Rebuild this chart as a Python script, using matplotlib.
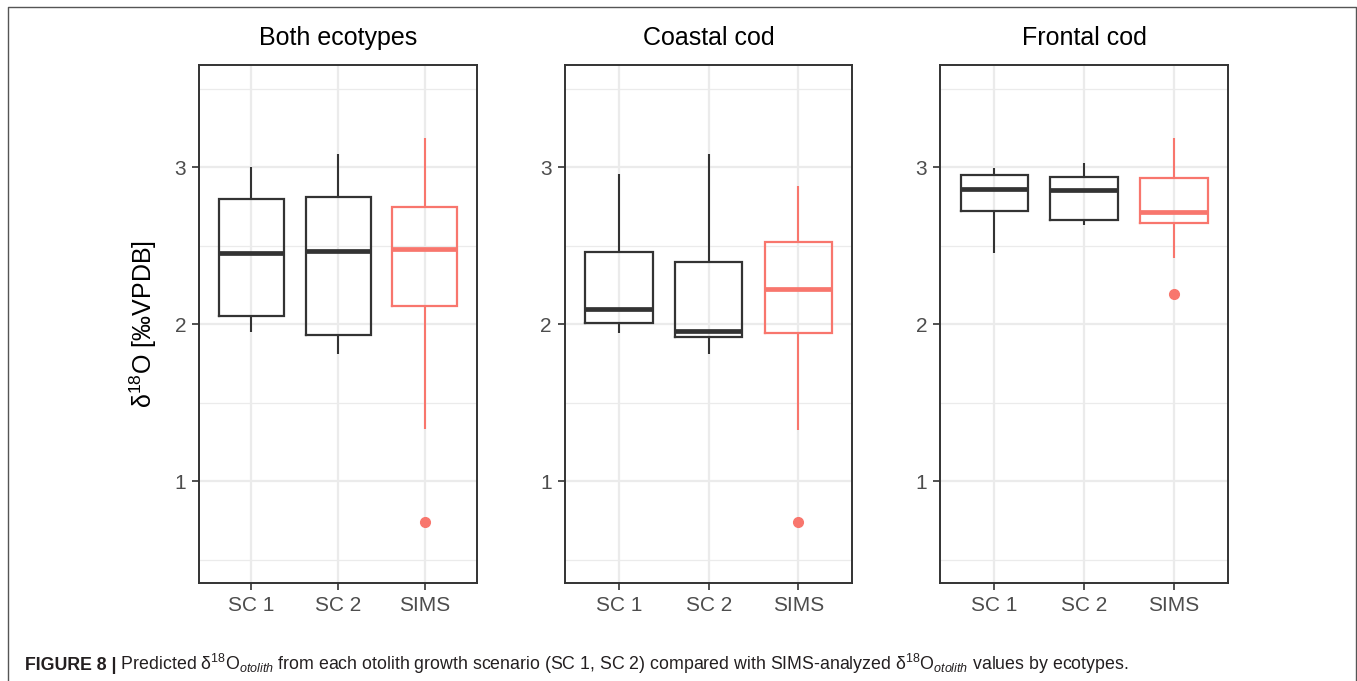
import matplotlib
matplotlib.use('Agg')
import matplotlib.pyplot as plt
from matplotlib.lines import Line2D
from matplotlib import font_manager

plt.rcParams['font.family'] = ['Liberation Sans', 'DejaVu Sans']
plt.rcParams['mathtext.fontset'] = 'custom'
plt.rcParams['mathtext.rm'] = 'Liberation Sans'
plt.rcParams['mathtext.it'] = 'Liberation Sans:italic'
plt.rcParams['mathtext.bf'] = 'Liberation Sans:bold'

# ---------------- data ----------------
panels = ['Both ecotypes', 'Coastal cod', 'Frontal cod']
categories = ['SC 1', 'SC 2', 'SIMS']
yticks = [1, 2, 3]

both_low = [1.95, 1.81, 1.33]
both_q1 = [2.055, 1.93, 2.114]
both_med = [2.451, 2.468, 2.479]
both_q3 = [2.797, 2.81, 2.746]
both_high = [3.00, 3.085, 3.187]
both_out = [[], [], [0.74]]

coastal_low = [1.945, 1.808, 1.326]
coastal_q1 = [2.007, 1.916, 1.943]
coastal_med = [2.095, 1.955, 2.225]
coastal_q3 = [2.462, 2.396, 2.526]
coastal_high = [2.953, 3.086, 2.881]
coastal_out = [[], [], [0.741]]

frontal_low = [2.451, 2.633, 2.423]
frontal_q1 = [2.719, 2.66, 2.647]
frontal_med = [2.862, 2.854, 2.713]
frontal_q3 = [2.95, 2.937, 2.931]
frontal_high = [2.994, 3.028, 3.185]
frontal_out = [[], [], [2.189]]

panel_data = [
    (both_low, both_q1, both_med, both_q3, both_high, both_out),
    (coastal_low, coastal_q1, coastal_med, coastal_q3, coastal_high, coastal_out),
    (frontal_low, frontal_q1, frontal_med, frontal_q3, frontal_high, frontal_out),
]
box_colors = ['#333333', '#333333', '#F8766D']

# ---------------- layout ----------------
W, H = 1357, 681
fig = plt.figure(figsize=(W / 100, H / 100), dpi=100)
fig.patch.set_facecolor('white')

axes_px = [(199.3, 477.0), (565.0, 852.3), (940.3, 1228.0)]
top_px, bot_px = 65.0, 583.3

for i, (name, data) in enumerate(zip(panels, panel_data)):
    l, r = axes_px[i]
    ax = fig.add_axes([l / W, (H - bot_px) / H, (r - l) / W, (bot_px - top_px) / H])
    low, q1, med, q3, high, outs = data
    stats = []
    for j in range(len(categories)):
        stats.append(dict(whislo=low[j], q1=q1[j], med=med[j], q3=q3[j],
                          whishi=high[j], fliers=outs[j], label=categories[j]))
    pos = list(range(1, len(categories) + 1))
    bp = ax.bxp(stats, positions=pos, widths=0.75, showcaps=False,
                patch_artist=False, manage_ticks=False)
    for j, c in enumerate(box_colors):
        b = bp['boxes'][j]
        b.set_color(c); b.set_linewidth(1.6); b.set_solid_joinstyle('miter')
        b.set_zorder(3)
        m = bp['medians'][j]
        m.set_color(c); m.set_linewidth(3.4); m.set_solid_capstyle('butt')
        m.set_zorder(4)
        for w in bp['whiskers'][2 * j:2 * j + 2]:
            w.set_color(c); w.set_linewidth(1.5); w.set_zorder(3)
            w.set_solid_capstyle('butt')
        f = bp['fliers'][j]
        f.set_marker('o'); f.set_markerfacecolor(c); f.set_markeredgecolor(c)
        f.set_markersize(7); f.set_zorder(5)

    ax.set_xlim(0.4, len(categories) + 0.6)
    ax.set_ylim(0.35, 3.65)
    ax.set_xticks(pos)
    ax.set_xticklabels(categories)
    ax.set_yticks(yticks)
    ax.set_yticklabels([str(v) for v in yticks])
    ax.set_yticks([0.5, 1.5, 2.5, 3.5], minor=True)
    ax.tick_params(axis='both', which='major', length=5, width=1.2,
                   color='#333333', labelcolor='#4D4D4D', labelsize=15, pad=4.5)
    ax.tick_params(axis='y', which='minor', length=0)
    ax.set_axisbelow(True)
    ax.grid(True, which='major', color='#EBEBEB', linewidth=1.6)
    ax.grid(True, which='minor', axis='y', color='#EBEBEB', linewidth=0.9)
    for s in ax.spines.values():
        s.set_color('#333333'); s.set_linewidth(1.4)
    ax.set_facecolor('white')
    ax.set_title(name, fontsize=18, color='black', pad=14.4)

# y label
fig.text(143 / W, 1 - 324 / H, r'$\mathrm{δ^{18}}$O [‰VPDB]', rotation=90,
         ha='center', va='center', fontsize=18, color='black')

# outer border (left, top, right)
bl, bt, br = 8.3 / W, 1 - 6.5 / H, 1356 / W
fig.add_artist(Line2D([bl, bl, br, br], [0, bt, bt, 0], transform=fig.transFigure,
                      color='#555555', linewidth=1.0))

# caption (condensed font if available)
names = {f.name for f in font_manager.fontManager.ttflist}
cap_family = 'Liberation Sans Narrow' if 'Liberation Sans Narrow' in names else 'Liberation Sans'
if cap_family == 'Liberation Sans Narrow':
    plt.rcParams['mathtext.rm'] = 'Liberation Sans Narrow'
    plt.rcParams['mathtext.it'] = 'Liberation Sans Narrow:italic'

cap_y = 1 - 670 / H
cap_x0 = 25 / W
target_end = 1134 / W
cap_rest = (r' Predicted $\mathrm{δ^{18}O_{\mathit{otolith}}}$ from each otolith growth '
            r'scenario (SC 1, SC 2) compared with SIMS-analyzed '
            r'$\mathrm{δ^{18}O_{\mathit{otolith}}}$ values by ecotypes.')
fs = 12.5
t1 = fig.text(cap_x0, cap_y, 'FIGURE 8 |', fontsize=fs, fontweight='bold',
              family=[cap_family, 'DejaVu Sans'],
              color='#231F20', ha='left', va='baseline')
t2 = fig.text(0.5, cap_y, cap_rest, fontsize=fs, color='#231F20',
              family=[cap_family, 'DejaVu Sans'],
              ha='left', va='baseline')
fig.canvas.draw()
r = fig.canvas.get_renderer()
w1 = t1.get_window_extent(r).width / W
w2 = t2.get_window_extent(r).width / W
scale = (target_end - cap_x0) / (w1 + w2)
fs2 = min(fs * scale, 13.0)
t1.set_fontsize(fs2); t2.set_fontsize(fs2)
fig.canvas.draw()
bb1 = t1.get_window_extent(r)
t2.set_x(bb1.x1 / W)

fig.savefig('out.png', dpi=100, facecolor='white')
